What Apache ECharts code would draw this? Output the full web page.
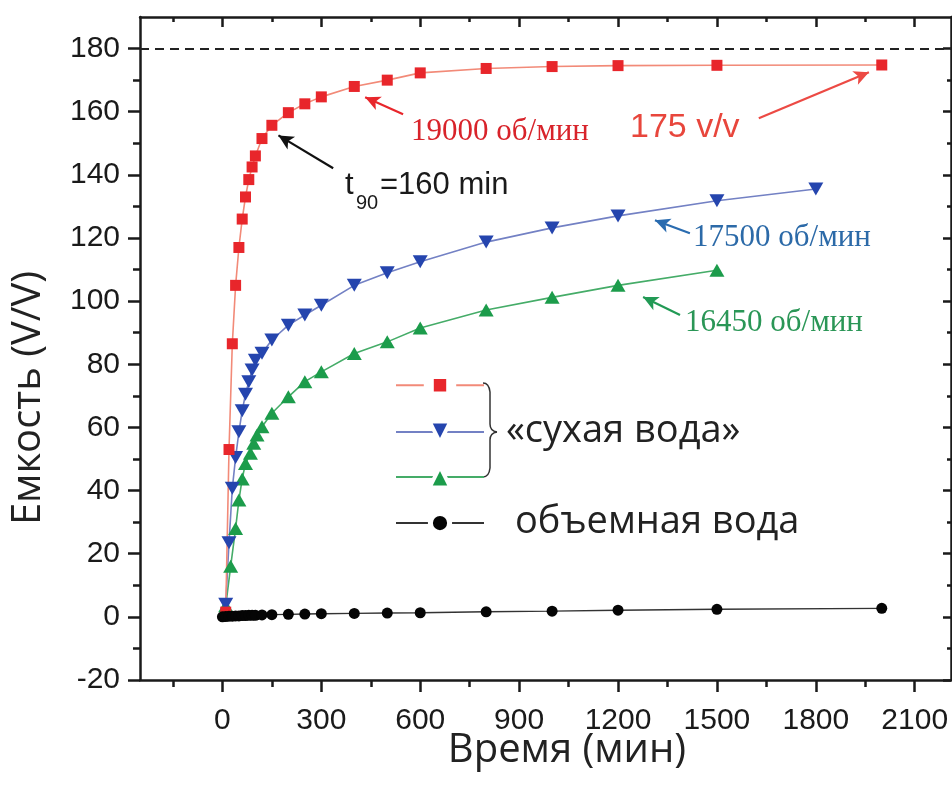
<!DOCTYPE html>
<html>
<head>
<meta charset="utf-8">
<script src="https://cdn.jsdelivr.net/npm/echarts@6/dist/echarts.min.js"></script>
<style>
html,body{margin:0;padding:0;background:#fff;}
#chart{width:952px;height:803px;}
</style>
</head>
<body>
<div id="chart"></div>
<script>
// ---- data ----
const redName = '19000 об/мин';
const blueName = '17500 об/мин';
const greenName = '16450 об/мин';
const blackName = 'объемная вода';

const redT = [10,20,30,40,50,60,70,80,90,100,120,150,200,250,300,400,500,600,800,1000,1200,1500,2000];
const redV = [1.5,53,86.5,105,117,126,133,138.5,142.5,146,151.5,155.7,159.7,162.5,164.7,168,170,172.3,173.7,174.3,174.6,174.7,174.8];

const blueT = [10,20,30,40,50,60,70,80,90,100,120,150,200,250,300,400,500,600,800,1000,1200,1500,1800];
const blueV = [4,23.5,40.7,50.5,58.6,65.3,70.5,74.5,78.2,81.3,83.5,87.7,92.4,95.6,98.7,105,109,112.5,118.7,123.2,127,131.8,135.5];

const greenT = [10,25,40,50,60,70,85,95,105,120,150,200,250,300,400,500,600,800,1000,1200,1500];
const greenV = [3.5,16,28,37,43.7,48.6,51.8,55,57.6,60.2,64.5,69.7,74.5,77.6,83.4,87.1,91.5,97.2,101.2,105,109.8];

const blackT = [0,10,20,30,40,50,60,70,80,90,100,120,150,200,250,300,400,500,600,800,1000,1200,1500,2000];
const blackV = [0,0.1,0.2,0.2,0.3,0.3,0.4,0.4,0.5,0.5,0.5,0.6,0.7,0.8,0.9,1.0,1.1,1.2,1.3,1.6,1.8,2.1,2.4,2.7];

const xMajor = [0,300,600,900,1200,1500,1800,2100];
const xMinor = [-150,150,450,750,1050,1350,1650,1950];
const yMajor = [-20,0,20,40,60,80,100,120,140,160,180];
const yMinor = [-10,10,30,50,70,90,110,130,150,170];
const capacityLimit = 180;

function zip(t, v){ return t.map((x,i)=>[x, v[i]]); }

// ---- chart ----
const chart = echarts.init(document.getElementById('chart'), null, {renderer:'canvas'});
const AX = '#1a1a1a';
const XMIN = -250, XMAX = 2210, YMIN = -20, YMAX = 190;
const plain = v => String(v);

function xAx(pos, ticks, len, inside, labels, line){
  return {
    type:'value', position:pos, min:XMIN, max:XMAX,
    axisLine:{show:line, onZero:false, lineStyle:{color:AX,width:2.5}},
    axisTick:{show:true, customValues:ticks, length:len, inside:inside, lineStyle:{color:AX,width:2.5}},
    axisLabel: labels ? {show:true, customValues:ticks, formatter:plain, fontSize:30, fontFamily:'"Liberation Sans", Arial, sans-serif', color:'#1a1a1a', margin:26} : {show:false},
    splitLine:{show:false}
  };
}
function yAx(pos, ticks, len, inside, labels, line){
  return {
    type:'value', position:pos, min:YMIN, max:YMAX,
    axisLine:{show:line, onZero:false, lineStyle:{color:AX,width:2.5}},
    axisTick:{show:true, customValues:ticks, length:len, inside:inside, lineStyle:{color:AX,width:2.5}},
    axisLabel: labels ? {show:true, customValues:ticks, formatter:plain, fontSize:30, fontFamily:'"Liberation Sans", Arial, sans-serif', color:'#1a1a1a', margin:20} : {show:false},
    splitLine:{show:false}
  };
}

const serifFont = '"Liberation Serif", "Times New Roman", serif';
const sansFont = '"Liberation Sans", Arial, sans-serif';
const legFont = '"Open Sans", "Noto Sans", sans-serif';

function legendFor(name, top, h, bw){
  return {
    data:[name], left:395, top:top, orient:'horizontal', padding:0,
    itemWidth:88, itemHeight:h, selectedMode:false,
    formatter:function(){return '';},
    itemStyle:{borderColor:'#fff', borderWidth:bw},
    textStyle:{fontSize:10}
  };
}

const arrowItem = (from, to, color) => [
  {coord:from, symbol:'none', lineStyle:{color:color, width:2.2, type:'solid'}},
  {coord:to, symbol:'arrow', symbolSize:[11,15]}
];

const braceStyle = {stroke:'#333', lineWidth:1.5, fill:null};

const option = {
  animation:false,
  backgroundColor:'#fff',
  grid:{left:140, right:1, top:17, bottom:123, containLabel:false},
  xAxis:[
    xAx('bottom', xMajor, 12, false, true, true),
    xAx('bottom', xMinor, 7, false, false, false),
    xAx('top', xMajor, 10, true, false, true),
    xAx('top', xMinor, 5, true, false, false)
  ],
  yAxis:[
    yAx('left', yMajor, 12, false, true, true),
    yAx('left', yMinor, 7, false, false, false),
    yAx('right', yMajor, 8, true, false, true),
    yAx('right', yMinor, 4, true, false, false)
  ],
  legend:[
    legendFor(redName, 383-14, 28, 10),
    legendFor(blueName, 432-13, 26, 4),
    legendFor(greenName, 477-13, 26, 4),
    legendFor(blackName, 523-12, 24, 5)
  ],
  series:[
    {
      name:greenName, type:'line', data:zip(greenT, greenV),
      symbol:'triangle', symbolSize:[15,13],
      itemStyle:{color:'#1c9c4b'}, lineStyle:{color:'#45ac68', width:1.6}
    },
    {
      name:blueName, type:'line', data:zip(blueT, blueV),
      symbol:'triangle', symbolRotate:180, symbolSize:[15,13],
      itemStyle:{color:'#2545ae'}, lineStyle:{color:'#7381c4', width:1.6}
    },
    {
      name:redName, type:'line', data:zip(redT, redV),
      symbol:'rect', symbolSize:11,
      itemStyle:{color:'#e8262b'}, lineStyle:{color:'#f28a78', width:1.6}
    },
    {
      name:blackName, type:'line', data:zip(blackT, blackV),
      symbol:'circle', symbolSize:11,
      itemStyle:{color:'#050505'}, lineStyle:{color:'#333', width:1.4},
      markLine:{
        silent:true, animation:false,
        label:{show:false},
        emphasis:{disabled:true},
        symbol:['none','none'],
        data:[
          [{coord:[XMIN, capacityLimit], symbol:'none', lineStyle:{color:'#222', width:2, type:[9,6]}},
           {coord:[XMAX, capacityLimit], symbol:'none'}],
          arrowItem([548,159.2],[433,164.6],'#e8262b'),
          arrowItem([1627,157.9],[1961,172.5],'#ec4a44'),
          arrowItem([336,142.1],[170,152.5],'#111'),
          arrowItem([1418,121.5],[1312,125.6],'#2a6cb0'),
          arrowItem([1388,95.6],[1276,101.3],'#229a55')
        ]
      }
    }
  ],
  graphic:[
    {type:'text', x:411, y:132, style:{text:'19000 об/мин', font:'31px '+serifFont, fill:'#d8232a', align:'left', verticalAlign:'middle'}},
    {type:'text', x:630, y:128, style:{text:'175 v/v', font:'34px '+sansFont, fill:'#e8463c', align:'left', verticalAlign:'middle'}},
    {type:'text', x:345, y:185, style:{text:'t', font:'31px '+sansFont, fill:'#1a1a1a', align:'left', verticalAlign:'middle'}},
    {type:'text', x:356, y:203, style:{text:'90', font:'20px '+sansFont, fill:'#1a1a1a', align:'left', verticalAlign:'middle'}},
    {type:'text', x:380, y:185, style:{text:'=160 min', font:'31px '+sansFont, fill:'#1a1a1a', align:'left', verticalAlign:'middle'}},
    {type:'text', x:693, y:238, style:{text:'17500 об/мин', font:'31px '+serifFont, fill:'#2c6aa8', align:'left', verticalAlign:'middle'}},
    {type:'text', x:685, y:323, style:{text:'16450 об/мин', font:'31px '+serifFont, fill:'#2a9656', align:'left', verticalAlign:'middle'}},
    {type:'bezierCurve', shape:{x1:483,y1:383,x2:490,y2:392,cpx1:489,cpy1:383}, style:braceStyle},
    {type:'line', shape:{x1:490,y1:392,x2:490,y2:424}, style:braceStyle},
    {type:'bezierCurve', shape:{x1:490,y1:424,x2:497,y2:432,cpx1:490,cpy1:431}, style:braceStyle},
    {type:'bezierCurve', shape:{x1:497,y1:432,x2:490,y2:440,cpx1:490,cpy1:433}, style:braceStyle},
    {type:'line', shape:{x1:490,y1:440,x2:490,y2:468}, style:braceStyle},
    {type:'bezierCurve', shape:{x1:490,y1:468,x2:483,y2:477,cpx1:489,cpy1:477}, style:braceStyle},
    {type:'text', x:506, y:431, style:{text:'«сухая вода»', font:'38px '+legFont, fill:'#222', align:'left', verticalAlign:'middle'}},
    {type:'text', x:515, y:522, style:{text:'объемная вода', font:'38px '+legFont, fill:'#222', align:'left', verticalAlign:'middle'}},
    {type:'text', x:567, y:751, style:{text:'Время (мин)', font:'40px '+legFont, fill:'#222', align:'center', verticalAlign:'middle'}},
    {type:'text', x:29, y:398, rotation:Math.PI/2, style:{text:'Емкость (V/V)', font:'40px '+legFont, fill:'#222', align:'center', verticalAlign:'middle'}}
  ]
};
chart.setOption(option);
</script>
</body>
</html>
